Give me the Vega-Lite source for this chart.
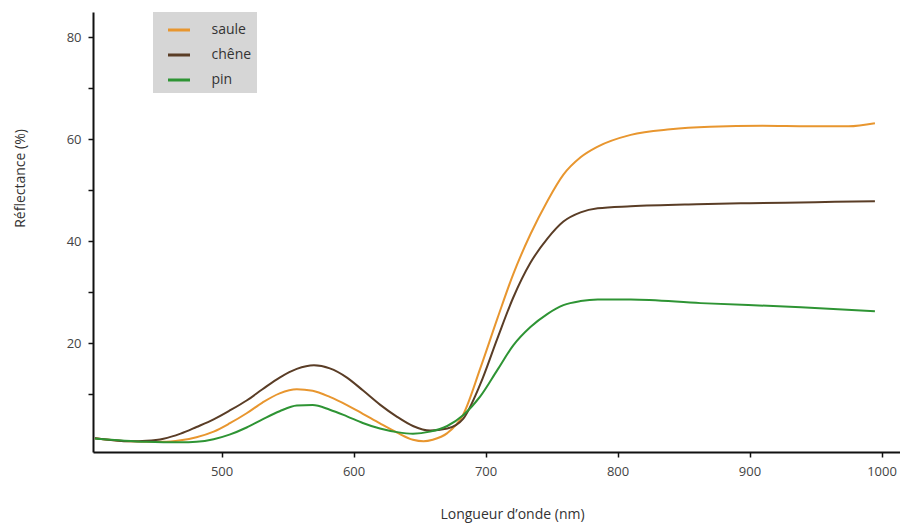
{
  "$schema": "https://vega.github.io/schema/vega-lite/v6.json",
  "width": 807,
  "height": 440,
  "autosize": {"type": "none"},
  "padding": {"left": 93, "top": 12, "right": 0, "bottom": 71},
  "background": "white",
  "config": {
    "view": {"stroke": null},
    "font": "Open Sans",
    "axis": {
      "domainColor": "#111111",
      "domainWidth": 2,
      "tickColor": "#111111",
      "tickWidth": 1.5,
      "tickSize": 5,
      "grid": false,
      "labelColor": "#444444",
      "labelFontSize": 13,
      "titleColor": "#333333",
      "titleFontSize": 14,
      "titleFontWeight": "normal"
    }
  },
  "data": {
    "values": [
      {"essence": "saule", "nm": 404, "r": 1.4},
      {"essence": "saule", "nm": 430, "r": 0.8},
      {"essence": "saule", "nm": 455, "r": 0.7},
      {"essence": "saule", "nm": 469, "r": 1.0},
      {"essence": "saule", "nm": 481, "r": 1.6},
      {"essence": "saule", "nm": 494, "r": 2.7},
      {"essence": "saule", "nm": 506, "r": 4.3},
      {"essence": "saule", "nm": 519, "r": 6.3},
      {"essence": "saule", "nm": 531, "r": 8.4},
      {"essence": "saule", "nm": 544, "r": 10.2},
      {"essence": "saule", "nm": 557, "r": 11.0},
      {"essence": "saule", "nm": 569, "r": 10.7},
      {"essence": "saule", "nm": 582, "r": 9.5},
      {"essence": "saule", "nm": 595, "r": 7.9},
      {"essence": "saule", "nm": 607, "r": 6.2},
      {"essence": "saule", "nm": 620, "r": 4.3},
      {"essence": "saule", "nm": 633, "r": 2.5},
      {"essence": "saule", "nm": 645, "r": 1.1},
      {"essence": "saule", "nm": 653, "r": 0.8},
      {"essence": "saule", "nm": 660, "r": 1.1},
      {"essence": "saule", "nm": 671, "r": 2.4},
      {"essence": "saule", "nm": 683, "r": 6.0},
      {"essence": "saule", "nm": 696, "r": 15.1},
      {"essence": "saule", "nm": 709, "r": 24.9},
      {"essence": "saule", "nm": 721, "r": 33.6},
      {"essence": "saule", "nm": 734, "r": 41.4},
      {"essence": "saule", "nm": 747, "r": 48.0},
      {"essence": "saule", "nm": 759, "r": 53.1},
      {"essence": "saule", "nm": 772, "r": 56.5},
      {"essence": "saule", "nm": 785, "r": 58.6},
      {"essence": "saule", "nm": 810, "r": 60.9},
      {"essence": "saule", "nm": 840, "r": 62.0},
      {"essence": "saule", "nm": 870, "r": 62.5},
      {"essence": "saule", "nm": 910, "r": 62.7},
      {"essence": "saule", "nm": 945, "r": 62.6},
      {"essence": "saule", "nm": 975, "r": 62.6},
      {"essence": "saule", "nm": 995, "r": 63.2},

      {"essence": "chêne", "nm": 404, "r": 1.4},
      {"essence": "chêne", "nm": 431, "r": 0.8},
      {"essence": "chêne", "nm": 443, "r": 0.9},
      {"essence": "chêne", "nm": 456, "r": 1.3},
      {"essence": "chêne", "nm": 469, "r": 2.3},
      {"essence": "chêne", "nm": 481, "r": 3.6},
      {"essence": "chêne", "nm": 494, "r": 5.1},
      {"essence": "chêne", "nm": 506, "r": 6.8},
      {"essence": "chêne", "nm": 519, "r": 8.8},
      {"essence": "chêne", "nm": 531, "r": 11.0},
      {"essence": "chêne", "nm": 544, "r": 13.3},
      {"essence": "chêne", "nm": 557, "r": 15.0},
      {"essence": "chêne", "nm": 570, "r": 15.7},
      {"essence": "chêne", "nm": 582, "r": 15.1},
      {"essence": "chêne", "nm": 595, "r": 13.3},
      {"essence": "chêne", "nm": 607, "r": 10.8},
      {"essence": "chêne", "nm": 620, "r": 8.0},
      {"essence": "chêne", "nm": 633, "r": 5.6},
      {"essence": "chêne", "nm": 645, "r": 3.8},
      {"essence": "chêne", "nm": 658, "r": 2.9},
      {"essence": "chêne", "nm": 671, "r": 3.3},
      {"essence": "chêne", "nm": 683, "r": 5.2},
      {"essence": "chêne", "nm": 696, "r": 12.0},
      {"essence": "chêne", "nm": 709, "r": 21.0},
      {"essence": "chêne", "nm": 721, "r": 29.0},
      {"essence": "chêne", "nm": 734, "r": 35.8},
      {"essence": "chêne", "nm": 747, "r": 40.6},
      {"essence": "chêne", "nm": 759, "r": 43.9},
      {"essence": "chêne", "nm": 772, "r": 45.7},
      {"essence": "chêne", "nm": 785, "r": 46.5},
      {"essence": "chêne", "nm": 810, "r": 46.9},
      {"essence": "chêne", "nm": 860, "r": 47.3},
      {"essence": "chêne", "nm": 900, "r": 47.5},
      {"essence": "chêne", "nm": 950, "r": 47.7},
      {"essence": "chêne", "nm": 995, "r": 47.9},

      {"essence": "pin", "nm": 404, "r": 1.35},
      {"essence": "pin", "nm": 443, "r": 0.7},
      {"essence": "pin", "nm": 469, "r": 0.6},
      {"essence": "pin", "nm": 481, "r": 0.7},
      {"essence": "pin", "nm": 494, "r": 1.2},
      {"essence": "pin", "nm": 506, "r": 2.1},
      {"essence": "pin", "nm": 519, "r": 3.5},
      {"essence": "pin", "nm": 531, "r": 5.1},
      {"essence": "pin", "nm": 544, "r": 6.7},
      {"essence": "pin", "nm": 557, "r": 7.8},
      {"essence": "pin", "nm": 569, "r": 7.9},
      {"essence": "pin", "nm": 582, "r": 7.0},
      {"essence": "pin", "nm": 595, "r": 5.7},
      {"essence": "pin", "nm": 607, "r": 4.4},
      {"essence": "pin", "nm": 620, "r": 3.3},
      {"essence": "pin", "nm": 633, "r": 2.6},
      {"essence": "pin", "nm": 645, "r": 2.3},
      {"essence": "pin", "nm": 658, "r": 2.7},
      {"essence": "pin", "nm": 671, "r": 3.8},
      {"essence": "pin", "nm": 683, "r": 5.9},
      {"essence": "pin", "nm": 696, "r": 9.6},
      {"essence": "pin", "nm": 709, "r": 14.8},
      {"essence": "pin", "nm": 721, "r": 19.6},
      {"essence": "pin", "nm": 734, "r": 23.2},
      {"essence": "pin", "nm": 747, "r": 25.8},
      {"essence": "pin", "nm": 759, "r": 27.5},
      {"essence": "pin", "nm": 772, "r": 28.3},
      {"essence": "pin", "nm": 785, "r": 28.6},
      {"essence": "pin", "nm": 810, "r": 28.6},
      {"essence": "pin", "nm": 863, "r": 27.9},
      {"essence": "pin", "nm": 939, "r": 27.1},
      {"essence": "pin", "nm": 995, "r": 26.3}
    ]
  },
  "mark": {"type": "line", "interpolate": "monotone", "strokeWidth": 2},
  "encoding": {
    "x": {
      "field": "nm",
      "type": "quantitative",
      "scale": {"domain": [402.6, 1014], "nice": false, "zero": false},
      "axis": {
        "values": [500, 600, 700, 800, 900, 1000],
        "format": "d",
        "labelPadding": 8,
        "title": "Longueur d’onde (nm)",
        "titleX": 419,
        "titleY": 62,
        "titleAlign": "center",
        "titleBaseline": "middle"
      }
    },
    "y": {
      "field": "r",
      "type": "quantitative",
      "scale": {"domain": [-1.3, 85], "nice": false, "zero": false},
      "axis": {
        "values": [10, 20, 30, 40, 50, 60, 70, 80],
        "labelExpr": "datum.value % 20 === 0 ? datum.label : ''",
        "labelPadding": 7,
        "title": "Réflectance (%)",
        "titleX": -73,
        "titleY": 166,
        "titleAlign": "center",
        "titleBaseline": "middle"
      }
    },
    "color": {
      "field": "essence",
      "type": "nominal",
      "scale": {
        "domain": ["saule", "chêne", "pin"],
        "range": ["#e8962f", "#5a3d26", "#2e9434"]
      },
      "legend": {
        "title": null,
        "orient": "none",
        "legendX": 60,
        "legendY": 0,
        "fillColor": "#d6d6d6",
        "padding": 5.5,
        "symbolType": "stroke",
        "symbolSize": 484,
        "symbolStrokeWidth": 3,
        "symbolOffset": 8,
        "labelOffset": 20,
        "labelFontSize": 14,
        "labelColor": "#333333",
        "rowPadding": 5
      }
    }
  }
}
